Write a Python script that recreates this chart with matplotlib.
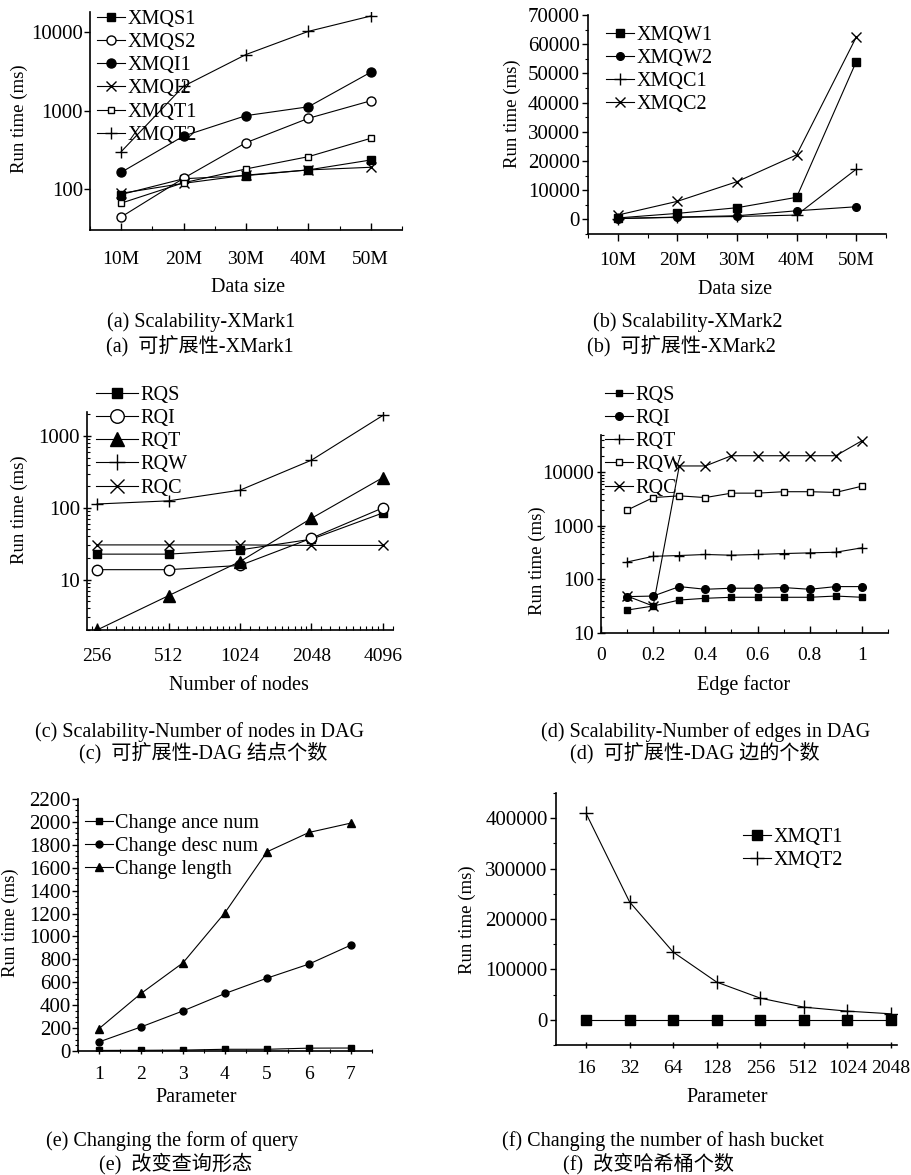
import numpy as np
import matplotlib
matplotlib.use("Agg")
import matplotlib.pyplot as plt
from matplotlib.ticker import FixedLocator, NullFormatter, LogLocator, MultipleLocator, NullLocator

plt.rcParams['font.family'] = ['Liberation Serif', 'Noto Sans CJK SC', 'DejaVu Sans']

W, H = 912, 1175

# ---------------- data ----------------
# (a) Scalability-XMark1
sizes = [10, 20, 30, 40, 50]
size_labels = ['10M', '20M', '30M', '40M', '50M']
xmqs1 = [85, 135, 148, 175, 234]
xmqs2 = [44, 137, 389, 795, 1330]
xmqi1 = [163, 473, 860, 1115, 3075]
xmqi2 = [88, 118, 150, 175, 189]
xmqt1 = [66, 120, 180, 258, 442]
xmqt2 = [299, 2040, 5170, 10200, 16000]

# (b) Scalability-XMark2
xmqw1 = [500, 2060, 4000, 7560, 54000]
xmqw2 = [300, 800, 1250, 2950, 4330]
xmqc1 = [300, 700, 1000, 1480, 17180]
xmqc2 = [1480, 6190, 12920, 22100, 62400]

# (c) Number of nodes in DAG
nodes = [256, 512, 1024, 2048, 4096]
rqs_c = [22.7, 22.7, 26, 36.6, 85]
rqi_c = [13.8, 13.8, 15.8, 37.8, 100]
rqt_c = [2.0, 6.0, 17.9, 71.5, 264]
rqw_c = [113, 125, 176, 460, 1930]
rqc_c = [30.5, 30.5, 30.5, 30, 30]

# (d) Number of edges in DAG
edge_factor = [0.1, 0.2, 0.3, 0.4, 0.5, 0.6, 0.7, 0.8, 0.9, 1.0]
rqs_d = [26.8, 31.9, 41.3, 44.5, 46.5, 46.5, 46.5, 46.5, 49, 46.5]
rqi_d = [47.8, 49, 73.6, 65.6, 68.6, 68.6, 70.6, 65.6, 73.6, 73.6]
rqt_d = [212, 271, 280, 293, 284, 293, 305, 314, 323, 390]
rqw_d = [1975, 3390, 3650, 3390, 4100, 4100, 4360, 4360, 4230, 5530]
rqc_d = [49, 31.9, 13200, 13200, 20500, 20500, 20500, 20500, 20500, 39000]

# (e) Changing the form of query
params_e = [1, 2, 3, 4, 5, 6, 7]
ance = [5, 6, 8, 15, 15, 25, 26]
desc = [79, 210, 350, 502, 636, 759, 925]
length = [195, 502, 770, 1208, 1739, 1908, 1990]

# (f) Changing the number of hash bucket
buckets = [16, 32, 64, 128, 256, 512, 1024, 2048]
xmqt1_f = [0, 0, 0, 0, 0, 0, 0, 0]
xmqt2_f = [409500, 233800, 134400, 74800, 43000, 25100, 17200, 11900]

# ---------------- helpers ----------------
fig = plt.figure(figsize=(W / 100, H / 100), dpi=100)

def add_ax(l, r, t, b):
    return fig.add_axes([l / W, 1 - b / H, (r - l) / W, (b - t) / H])

def fx(x):
    return x / W

def fy(y):
    return 1 - y / H

XFS = 14
YFS = 15
LFS = 14.5
LW = 0.8

def style(ax, xdir='inout', ydir='out', xpad=8, ypad=2):
    ax.spines['top'].set_visible(False)
    ax.spines['right'].set_visible(False)
    for s in ('left', 'bottom'):
        ax.spines[s].set_linewidth(1.2)
    ax.tick_params(axis='x', which='major', direction=xdir, length=5, width=1, labelsize=XFS, pad=xpad)
    ax.tick_params(axis='x', which='minor', direction=xdir, length=3, width=0.8)
    ax.tick_params(axis='y', which='major', direction=ydir, length=4, width=1, labelsize=YFS, pad=ypad)
    ax.tick_params(axis='y', which='minor', direction=ydir, length=2, width=0.8)

def legend(ax, left, top, hl=1.4, ms=1.0):
    h, l = ax.get_legend_handles_labels()
    fig.legend(h, l, loc='upper left', bbox_to_anchor=(fx(left), fy(top)),
               bbox_transform=fig.transFigure, frameon=False, fontsize=LFS,
               handlelength=hl, handletextpad=0.1, labelspacing=0.2,
               borderpad=0, borderaxespad=0, numpoints=1, markerscale=ms)

def ylab(x, y, text):
    fig.text(fx(x), fy(y), text, rotation=90, ha='center', va='center', fontsize=13.5)

def xlab(x, y, text):
    fig.text(fx(x), fy(y), text, ha='center', va='center', fontsize=14.5)

def caption(x1, y1, t1, x2, y2, t2):
    fig.text(fx(x1), fy(y1), t1, ha='center', va='center', fontsize=14.5)
    fig.text(fx(x2), fy(y2), t2, ha='center', va='center', fontsize=14.5)

kw = dict(color='black', lw=LW, mec='black')

# ---------------- (a) ----------------
ax = add_ax(90, 402, 12, 230)
ax.plot(sizes, xmqs1, marker='s', ms=5.5, mfc='black', label='XMQS1', **kw)
ax.plot(sizes, xmqs2, marker='o', ms=6.5, mfc='white', label='XMQS2', **kw)
ax.plot(sizes, xmqi1, marker='o', ms=6.5, mfc='black', label='XMQI1', **kw)
ax.plot(sizes, xmqi2, marker='x', ms=6.5, label='XMQI2', **kw)
ax.plot(sizes, xmqt1, marker='s', ms=4.5, mfc='white', label='XMQT1', **kw)
ax.plot(sizes, xmqt2, marker='+', ms=8, label='XMQT2', **kw)
ax.set_yscale('log')
ax.set_ylim(30, 18000)
ax.set_xlim(5, 55)
ax.xaxis.set_major_locator(FixedLocator(sizes))
ax.set_xticklabels(size_labels)
ax.xaxis.set_minor_locator(FixedLocator([5, 15, 25, 35, 45, 55]))
ax.yaxis.set_major_locator(FixedLocator([100, 1000, 10000]))
ax.set_yticklabels(['100', '1000', '10000'])
ax.yaxis.set_minor_locator(NullLocator())
style(ax, xdir='in', xpad=15, ypad=1)
legend(ax, 97, 10)
ylab(19, 119, 'Run time (ms)')
xlab(248, 288, 'Data size')
caption(201, 322, '(a) Scalability-XMark1', 200, 346, '(a)  可扩展性-XMark1')

# ---------------- (b) ----------------
ax = add_ax(588, 886, 15, 234)
ax.plot(sizes, xmqw1, marker='s', ms=5.5, mfc='black', label='XMQW1', **kw)
ax.plot(sizes, xmqw2, marker='o', ms=5.5, mfc='black', label='XMQW2', **kw)
ax.plot(sizes, xmqc1, marker='+', ms=8, label='XMQC1', **kw)
ax.plot(sizes, xmqc2, marker='x', ms=7, label='XMQC2', **kw)
ax.set_ylim(-5000, 70000)
ax.set_xlim(5, 55)
ax.xaxis.set_major_locator(FixedLocator(sizes))
ax.set_xticklabels(size_labels)
ax.xaxis.set_minor_locator(FixedLocator([5, 15, 25, 35, 45, 55]))
ax.yaxis.set_major_locator(MultipleLocator(10000))
ax.yaxis.set_minor_locator(MultipleLocator(5000))
style(ax, xdir='out', ypad=2)
legend(ax, 606, 26)
ylab(512, 114, 'Run time (ms)')
xlab(735, 290, 'Data size')
caption(688, 322, '(b) Scalability-XMark2', 681, 346, '(b)  可扩展性-XMark2')

# ---------------- (c) ----------------
ax = add_ax(87, 393, 412, 630)
ax.plot(nodes, rqs_c, marker='s', ms=6, mfc='black', label='RQS', **kw)
ax.plot(nodes, rqi_c, marker='o', ms=7.5, mfc='white', label='RQI', **kw)
ax.plot(nodes, rqt_c, marker='^', ms=8, mfc='black', label='RQT', **kw)
ax.plot(nodes, rqw_c, marker='+', ms=8.5, label='RQW', **kw)
ax.plot(nodes, rqc_c, marker='x', ms=7.5, label='RQC', **kw)
ax.set_xscale('log', base=2)
ax.set_yscale('log')
ax.set_xlim(256 * 2 ** -0.14, 4096 * 2 ** 0.14)
ax.set_ylim(2, 2150)
ax.xaxis.set_major_locator(FixedLocator(nodes))
ax.set_xticklabels([str(n) for n in nodes])
ax.xaxis.set_minor_locator(LogLocator(base=2, subs=np.arange(1.1, 2.0, 0.1)))
ax.xaxis.set_minor_formatter(NullFormatter())
ax.yaxis.set_major_locator(FixedLocator([10, 100, 1000]))
ax.set_yticklabels(['10', '100', '1000'])
ax.yaxis.set_minor_locator(LogLocator(base=10, subs=np.arange(2, 10)))
ax.yaxis.set_minor_formatter(NullFormatter())
style(ax, xdir='in', ydir='in', xpad=13)
ax.tick_params(axis='y', which='major', direction='inout', length=6)
legend(ax, 96, 386, hl=2.1, ms=1.3)
ylab(19, 510, 'Run time (ms)')
xlab(239, 685, 'Number of nodes')
caption(200, 732, '(c) Scalability-Number of nodes in DAG', 203, 753, '(c)  可扩展性-DAG 结点个数')

# ---------------- (d) ----------------
ax = add_ax(601, 888, 435, 633)
ax.plot(edge_factor, rqs_d, marker='s', ms=5, mfc='black', label='RQS', **kw)
ax.plot(edge_factor, rqi_d, marker='o', ms=5.5, mfc='black', label='RQI', **kw)
ax.plot(edge_factor, rqt_d, marker='+', ms=7, label='RQT', **kw)
ax.plot(edge_factor, rqw_d, marker='s', ms=5, mfc='white', label='RQW', **kw)
ax.plot(edge_factor, rqc_d, marker='x', ms=7, label='RQC', **kw)
ax.set_yscale('log')
ax.set_xlim(0, 1.1)
ax.set_ylim(10, 50000)
ax.xaxis.set_major_locator(FixedLocator([0, 0.2, 0.4, 0.6, 0.8, 1.0]))
ax.set_xticklabels(['0', '0.2', '0.4', '0.6', '0.8', '1'])
ax.xaxis.set_minor_locator(FixedLocator([0.1, 0.3, 0.5, 0.7, 0.9, 1.1]))
ax.yaxis.set_major_locator(FixedLocator([10, 100, 1000, 10000]))
ax.set_yticklabels(['10', '100', '1000', '10000'])
ax.yaxis.set_minor_locator(LogLocator(base=10, subs=np.arange(2, 10)))
ax.yaxis.set_minor_formatter(NullFormatter())
style(ax, xdir='in', ydir='in', xpad=10)
ax.tick_params(axis='y', which='major', direction='inout', length=6)
legend(ax, 605, 386)
ylab(537, 561, 'Run time (ms)')
xlab(744, 685, 'Edge factor')
caption(706, 732, '(d) Scalability-Number of edges in DAG', 695, 753, '(d)  可扩展性-DAG 边的个数')

# ---------------- (e) ----------------
ax = add_ax(78, 372, 799, 1051)
ax.plot(params_e, ance, marker='s', ms=4.5, mfc='black', label='Change ance num', **kw)
ax.plot(params_e, desc, marker='o', ms=5, mfc='black', label='Change desc num', **kw)
ax.plot(params_e, length, marker='^', ms=5.5, mfc='black', label='Change length', **kw)
ax.set_xlim(0.5, 7.5)
ax.set_ylim(0, 2200)
ax.xaxis.set_major_locator(FixedLocator(params_e))
ax.xaxis.set_minor_locator(FixedLocator([0.5, 1.5, 2.5, 3.5, 4.5, 5.5, 6.5, 7.5]))
ax.yaxis.set_major_locator(MultipleLocator(200))
ax.yaxis.set_minor_locator(MultipleLocator(50))
style(ax, xdir='inout', ydir='out', ypad=1)
legend(ax, 85, 814)
ylab(10, 923, 'Run time (ms)')
xlab(196, 1097, 'Parameter')
caption(172, 1141, '(e) Changing the form of query', 176, 1164, '(e)  改变查询形态')

# ---------------- (f) ----------------
ax = add_ax(556, 897, 793, 1045)
ax.plot(buckets, xmqt1_f, marker='s', ms=7.5, mfc='black', label='XMQT1', **kw)
ax.plot(buckets, xmqt2_f, marker='+', ms=10, label='XMQT2', **kw)
ax.set_xscale('log', base=2)
ax.set_xlim(16 * 2 ** -0.69, 2048 * 2 ** 0.14)
ax.set_ylim(-50000, 450000)
ax.xaxis.set_major_locator(FixedLocator(buckets))
ax.set_xticklabels([str(b) for b in buckets])
ax.xaxis.set_minor_locator(LogLocator(base=2, subs=np.arange(1.1, 2.0, 0.1)))
ax.xaxis.set_minor_formatter(NullFormatter())
ax.yaxis.set_major_locator(MultipleLocator(100000))
ax.yaxis.set_minor_locator(MultipleLocator(50000))
style(ax, xdir='inout', ydir='out')
legend(ax, 743, 828)
ylab(467, 920, 'Run time (ms)')
xlab(727, 1098, 'Parameter')
caption(663, 1141, '(f) Changing the number of hash bucket', 649, 1164, '(f)  改变哈希桶个数')

fig.savefig('out.png', dpi=100)
